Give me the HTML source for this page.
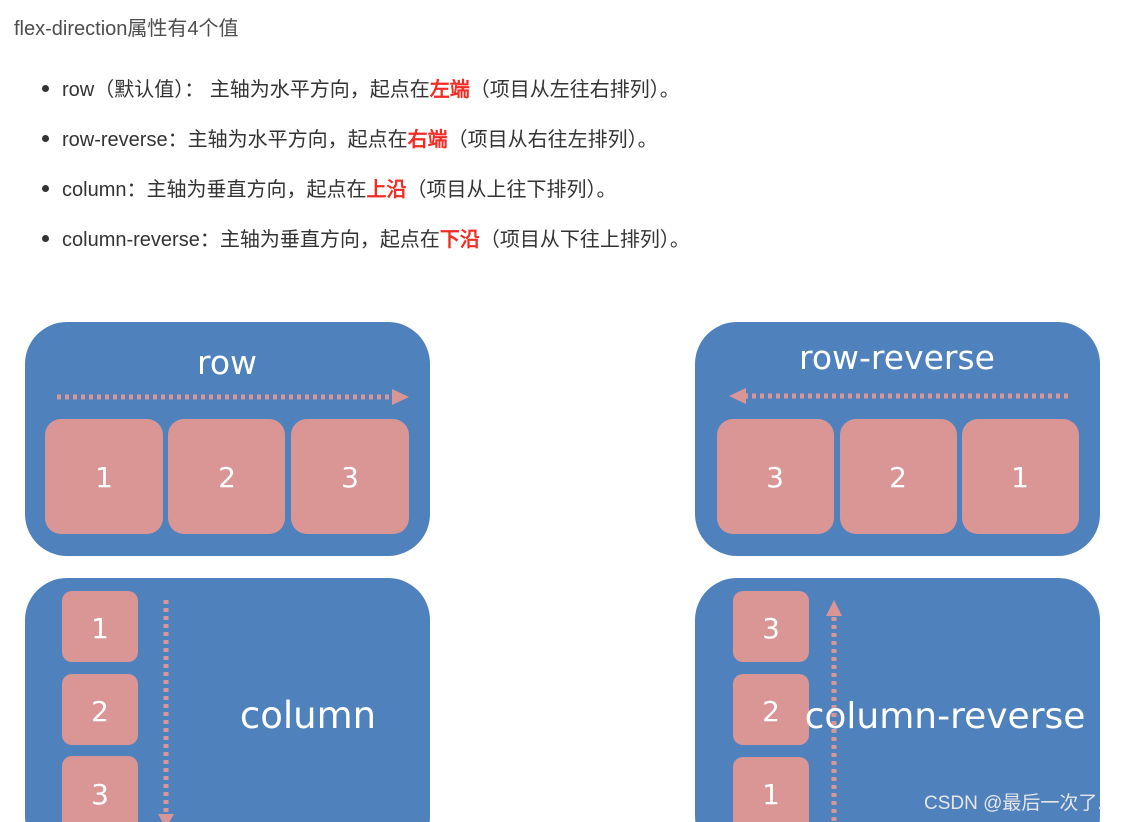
<!DOCTYPE html>
<html style="overflow:hidden;height:822px"><head><meta charset="utf-8"><style>
html,body{margin:0;width:1128px;height:822px;overflow:hidden;background:#fff;font-family:"Liberation Sans","WenQuanYi Zen Hei",sans-serif;color:#333;}
.t{position:absolute;left:14px;top:12px;font-size:20px;color:#4d4d4d;white-space:nowrap}
.li{position:absolute;left:62px;font-size:20px;white-space:nowrap;color:#333}
.li:before{content:"";position:absolute;left:-20px;top:12px;width:7px;height:7px;border-radius:50%;background:#333}
.r{color:#f22b24;font-weight:bold}
svg{position:absolute;left:0;top:0;overflow:hidden}
</style></head><body>
<div class="t">flex-direction属性有4个值</div>
<div class="li" style="top:73px">row（默认值）： 主轴为水平方向，起点在<span class="r">左端</span>（项目从左往右排列）。</div>
<div class="li" style="top:123px">row-reverse：主轴为水平方向，起点在<span class="r">右端</span>（项目从右往左排列）。</div>
<div class="li" style="top:173px">column：主轴为垂直方向，起点在<span class="r">上沿</span>（项目从上往下排列）。</div>
<div class="li" style="top:223px">column-reverse：主轴为垂直方向，起点在<span class="r">下沿</span>（项目从下往上排列）。</div>
<svg width="1128" height="822" font-family="'DejaVu Sans','Liberation Sans',sans-serif">
<g fill="#4f81bd">
<rect x="25" y="322" width="405" height="234" rx="42"/>
<rect x="695" y="322" width="405" height="234" rx="42"/>
<rect x="25" y="578" width="405" height="280" rx="42"/>
<rect x="695" y="578" width="405" height="280" rx="42"/>
</g>
<g fill="#d99694">
<rect x="45" y="419" width="118" height="115" rx="16"/>
<rect x="168" y="419" width="117" height="115" rx="16"/>
<rect x="291" y="419" width="118" height="115" rx="16"/>
<rect x="717" y="419" width="117" height="115" rx="16"/>
<rect x="840" y="419" width="117" height="115" rx="16"/>
<rect x="962" y="419" width="117" height="115" rx="16"/>
<rect x="62" y="591" width="76" height="71" rx="10"/>
<rect x="62" y="674" width="76" height="71" rx="10"/>
<rect x="62" y="756" width="76" height="80" rx="10"/>
<rect x="733" y="591" width="76" height="71" rx="10"/>
<rect x="733" y="674" width="76" height="71" rx="10"/>
<rect x="733" y="757" width="76" height="80" rx="10"/>
</g>
<g stroke="#d99694" stroke-width="5" stroke-dasharray="4,4" fill="none">
<line x1="57" y1="397" x2="393" y2="397"/>
<line x1="744" y1="396" x2="1068" y2="396"/>
<line x1="166" y1="600" x2="166" y2="822"/>
<line x1="834" y1="617" x2="834" y2="822"/>
</g>
<g fill="#d99694">
<polygon points="392,389 409,397 392,405"/>
<polygon points="746,388 729,396 746,404"/>
<polygon points="826,616 834,600 842,616"/>
<polygon points="158,814 166,828 174,814"/>
</g>
<g fill="#fff" text-anchor="middle" font-size="28">
<text x="104" y="487">1</text><text x="227" y="487">2</text><text x="350" y="487">3</text>
<text x="775" y="487">3</text><text x="898" y="487">2</text><text x="1020" y="487">1</text>
<text x="100" y="638">1</text><text x="100" y="721">2</text><text x="100" y="804">3</text>
<text x="771" y="638">3</text><text x="771" y="721">2</text><text x="771" y="804">1</text>
<text x="227" y="374" font-size="33">row</text>
<text x="897" y="369" font-size="33">row-reverse</text>
<text x="308" y="728" font-size="37">column</text>
<text x="945" y="728" font-size="36">column-reverse</text>
</g>
<text x="924" y="809" font-size="19" fill="#e6e6e6" font-family="'Liberation Sans','WenQuanYi Zen Hei',sans-serif">CSDN @最后一次了.</text>
</svg>
</body></html>
